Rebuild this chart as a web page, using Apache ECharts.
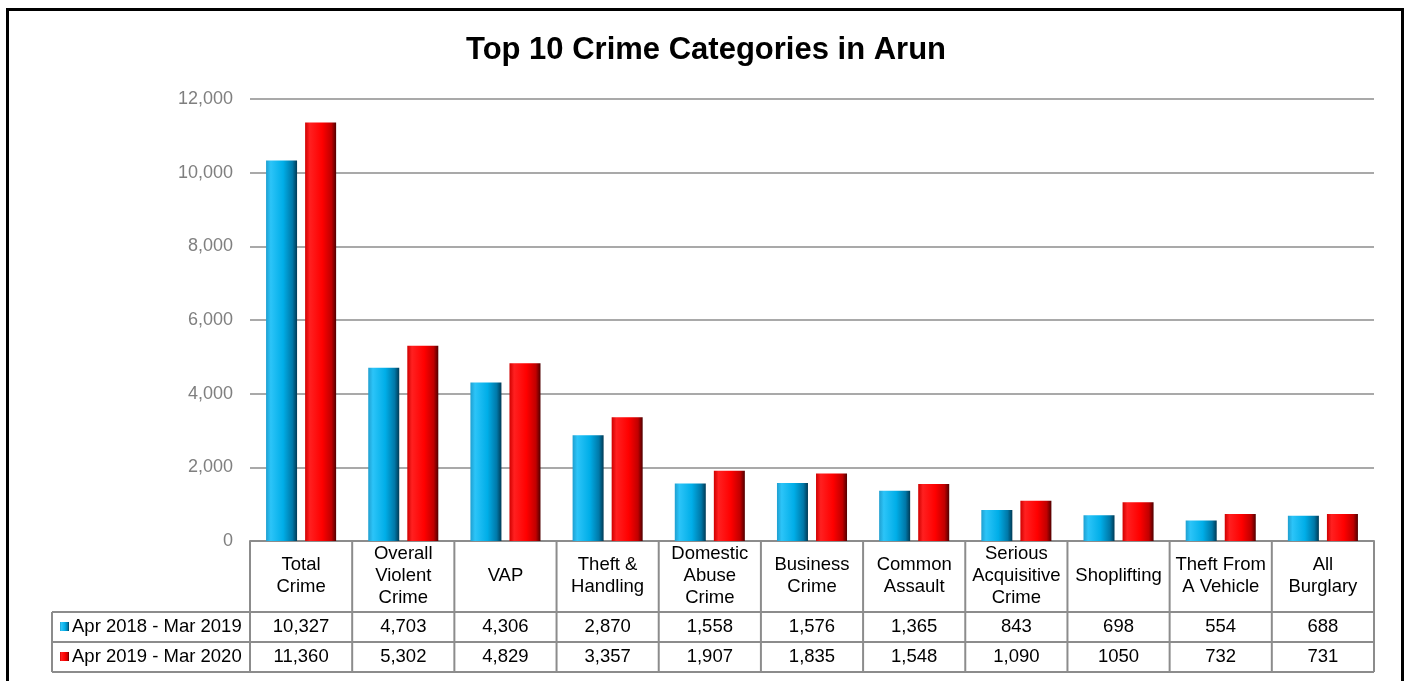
<!DOCTYPE html>
<html>
<head>
<meta charset="utf-8">
<script src="https://cdn.jsdelivr.net/npm/echarts@6/dist/echarts.min.js"></script>
<style>
  html, body { margin: 0; padding: 0; background: #fff; }
  #chart { width: 1412px; height: 681px; }
</style>
</head>
<body>
<div id="chart"></div>
<script>
const categories = [
  'Total\nCrime', 'Overall\nViolent\nCrime', 'VAP', 'Theft &\nHandling',
  'Domestic\nAbuse\nCrime', 'Business\nCrime', 'Common\nAssault',
  'Serious\nAcquisitive\nCrime', 'Shoplifting', 'Theft From\nA Vehicle', 'All\nBurglary'
];
const seriesNames = ['Apr 2018 - Mar 2019', 'Apr 2019 - Mar 2020'];
// values as printed in the table under the chart
const labels2018 = ['10,327', '4,703', '4,306', '2,870', '1,558', '1,576', '1,365', '843', '698', '554', '688'];
const labels2019 = ['11,360', '5,302', '4,829', '3,357', '1,907', '1,835', '1,548', '1,090', '1050', '732', '731'];
const values2018 = labels2018.map(s => Number(s.replace(/,/g, '')));
const values2019 = labels2019.map(s => Number(s.replace(/,/g, '')));

const font = 'Liberation Sans, Arial, sans-serif';
const lineColor = '#8c8c8c';

const blueFill = new echarts.graphic.LinearGradient(0, 0, 1, 0, [
  { offset: 0, color: '#1f9fd0' },
  { offset: 0.15, color: '#2cc4f8' },
  { offset: 0.55, color: '#00aee8' },
  { offset: 0.85, color: '#0078a8' },
  { offset: 1, color: '#003a55' }
]);
const redFill = new echarts.graphic.LinearGradient(0, 0, 1, 0, [
  { offset: 0, color: '#d00000' },
  { offset: 0.15, color: '#ff2020' },
  { offset: 0.55, color: '#ff0000' },
  { offset: 0.85, color: '#c00000' },
  { offset: 1, color: '#500000' }
]);

const chart = echarts.init(document.getElementById('chart'));

chart.setOption({
  backgroundColor: '#fff',
  animation: false,
  title: {
    text: 'Top 10 Crime Categories in Arun',
    left: 'center',
    top: 30,
    textStyle: { fontFamily: font, fontSize: 31, fontWeight: 'bold', color: '#000' }
  },
  grid: { left: 250, right: 38, top: 99, bottom: 140 },
  xAxis: {
    type: 'category',
    data: categories,
    axisLine: { lineStyle: { color: lineColor, width: 2 } },
    axisTick: { show: false },
    axisLabel: {
      interval: 0,
      margin: 35,
      verticalAlign: 'middle',
      fontFamily: font,
      fontSize: 18.5,
      lineHeight: 22,
      color: '#000'
    }
  },
  yAxis: {
    type: 'value',
    min: 0,
    max: 12000,
    interval: 2000,
    axisLine: { show: false },
    axisTick: { show: false },
    axisLabel: {
      margin: 17,
      fontFamily: font,
      fontSize: 18,
      color: '#7f7f7f',
      formatter: v => v.toLocaleString('en-US')
    },
    splitLine: { lineStyle: { color: lineColor, width: 1.5 } }
  },
  series: [
    {
      name: seriesNames[0],
      type: 'bar',
      data: values2018,
      barWidth: 31,
      barGap: '26%',
      itemStyle: { color: blueFill }
    },
    {
      name: seriesNames[1],
      type: 'bar',
      data: values2019,
      barWidth: 31,
      itemStyle: { color: redFill }
    }
  ]
});

// data table under the axis
const y0 = chart.convertToPixel({ yAxisIndex: 0 }, 0);
const cx = categories.map((c, i) => chart.convertToPixel({ xAxisIndex: 0 }, i));
const band = cx[1] - cx[0];
const xLeft = cx[0] - band / 2;
const xRight = cx[cx.length - 1] + band / 2;
const labelLeft = 52;
const rowTop = y0 + 71;
const rowH = 30;
const rowsY = [rowTop, rowTop + rowH, rowTop + 2 * rowH];

const elements = [];
const line = (x1, y1, x2, y2) => elements.push({
  type: 'line',
  shape: { x1, y1, x2, y2 },
  style: { stroke: lineColor, lineWidth: 2 }
});

rowsY.forEach(y => line(labelLeft, y, xRight, y));
line(labelLeft, rowsY[0], labelLeft, rowsY[2]);
for (let i = 0; i <= categories.length; i++) {
  const x = xLeft + i * band;
  line(x, y0, x, rowsY[2]);
}

[labels2018, labels2019].forEach((labels, r) => {
  const yc = rowsY[r] + rowH / 2;
  labels.forEach((t, i) => elements.push({
    type: 'text',
    x: cx[i],
    y: yc,
    style: {
      text: t, fontFamily: font, fontSize: 18.5, fill: '#000',
      align: 'center', verticalAlign: 'middle'
    }
  }));
  elements.push({
    type: 'rect',
    shape: { x: 60, y: yc - 5, width: 9, height: 9 },
    style: { fill: r === 0 ? blueFill : redFill }
  });
  elements.push({
    type: 'text',
    x: 72,
    y: yc,
    style: {
      text: seriesNames[r], fontFamily: font, fontSize: 18.5, fill: '#000',
      align: 'left', verticalAlign: 'middle'
    }
  });
});

// outer frame
elements.push({
  type: 'rect',
  shape: { x: 7.5, y: 9.5, width: 1395, height: 700 },
  style: { fill: 'none', stroke: '#000', lineWidth: 3 }
});

chart.setOption({ graphic: { elements } });
</script>
</body>
</html>
